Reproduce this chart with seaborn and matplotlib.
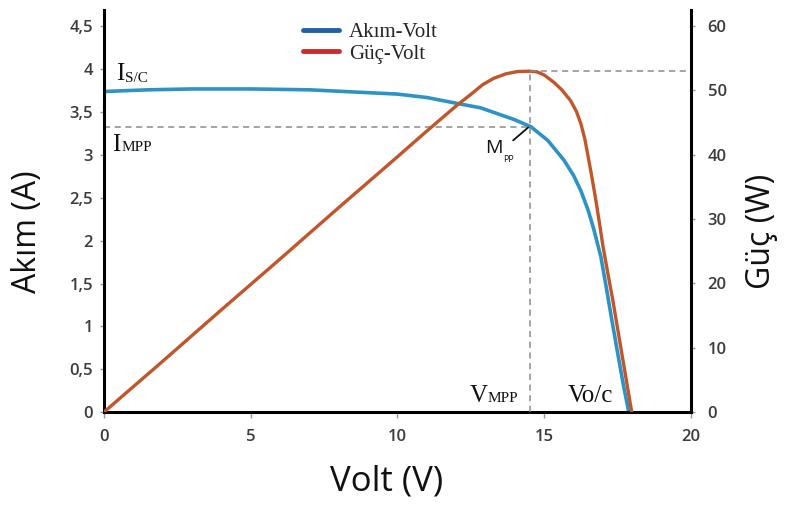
import matplotlib
matplotlib.use("Agg")
import matplotlib.pyplot as plt
import seaborn as sns
import pandas as pd
from matplotlib.lines import Line2D
from matplotlib.transforms import offset_copy

# ---- data ----
volt_i = [0, 1.5, 3, 5, 7, 8.8, 10, 11, 12.05, 12.83, 13.5, 14.0, 14.54,
          15.12, 15.67, 16.0, 16.25, 16.5, 16.69, 16.93, 17.1, 17.3, 17.5,
          17.7, 17.88]
current = [3.74, 3.76, 3.77, 3.77, 3.76, 3.73, 3.71, 3.67, 3.60, 3.55, 3.47,
           3.41, 3.33, 3.17, 2.94, 2.76, 2.58, 2.35, 2.13, 1.81, 1.48, 1.08,
           0.69, 0.31, 0.0]

volt_p = [0, 2, 4, 6, 8, 10, 11, 12.05, 12.5, 12.9, 13.28, 13.7, 14.1, 14.5,
          14.75, 15.0, 15.32, 15.6, 15.9, 16.1, 16.25, 16.38, 16.48, 16.62,
          16.76, 16.88, 17.0, 17.17, 17.34, 17.55, 17.75, 17.98]
power = [0, 7.9, 15.9, 23.8, 31.8, 39.7, 43.7, 47.8, 49.4, 50.9, 51.9, 52.6,
         52.95, 53.0, 52.9, 52.4, 51.3, 50.1, 48.4, 46.7, 44.8, 42.5, 40.1,
         36.6, 32.9, 29.4, 25.8, 21.5, 17.3, 11.6, 6.2, 0]

mpp_v = 14.5
mpp_i = 3.33
mpp_p = 53.0

left_ticks = [0, 0.5, 1, 1.5, 2, 2.5, 3, 3.5, 4, 4.5]
left_labels = ["0", "0,5", "1", "1,5", "2", "2,5", "3", "3,5", "4", "4,5"]
right_ticks = [0, 10, 20, 30, 40, 50, 60]
x_ticks = [0, 5, 10, 15, 20]

series_names = ["Akım-Volt", "Güç-Volt"]

# ---- styling ----
sns.set_theme(style="white")
plt.rcParams["font.family"] = ["Open Sans", "DejaVu Sans"]

curve_blue = "#2c93c4"
curve_red = "#c2562b"
legend_blue = "#2062a6"
legend_red = "#cc2b2b"
dash_col = "#8a8a8a"
tick_col = "#3c3c3c"
serif = ["Liberation Serif", "DejaVu Serif"]

fig = plt.figure(figsize=(7.9, 5.05), dpi=100)
ax = fig.add_axes([0.1316, 0.184, 0.7431, 0.796])
ax2 = ax.twinx()

df_i = pd.DataFrame({"V": volt_i, "I": current})
df_p = pd.DataFrame({"V": volt_p, "P": power})

sns.lineplot(data=df_i, x="V", y="I", ax=ax, color=curve_blue, lw=2.6,
             sort=False, estimator=None)
sns.lineplot(data=df_p, x="V", y="P", ax=ax2, color=curve_red, lw=2.4,
             sort=False, estimator=None)

# dashed guides
ax.hlines(mpp_i, 0, mpp_v, colors=dash_col, linestyles=(0, (4, 3)), lw=1.1)
ax2.vlines(mpp_v, 0, mpp_p, colors=dash_col, linestyles=(0, (4, 3)), lw=1.1)
ax2.hlines(mpp_p, mpp_v, 20, colors=dash_col, linestyles=(0, (4, 3)), lw=1.1)

ax.set_xlim(0, 20)
ax.set_ylim(0, 4.69)
ax2.set_ylim(0, 62.5)

ax.set_xticks(x_ticks)
ax.set_xticklabels([str(t) for t in x_ticks])
ax.set_yticks(left_ticks)
ax.set_yticklabels(left_labels)
ax2.set_yticks(right_ticks)
ax2.set_yticklabels([str(t) for t in right_ticks])

for a in (ax, ax2):
    a.grid(False)
    for s in a.spines.values():
        s.set_color("black")
        s.set_linewidth(2.2)
    a.spines["top"].set_visible(False)

ax.spines["right"].set_visible(False)
ax2.spines["left"].set_visible(False)
ax2.spines["bottom"].set_visible(False)

ax.tick_params(axis="y", left=True, length=3, width=1, color="#999999",
               pad=5, labelsize=12, labelcolor=tick_col)
ax.tick_params(axis="x", bottom=True, length=4, width=1, color="#999999",
               pad=8, labelsize=12, labelcolor=tick_col)
ax2.tick_params(axis="y", right=True, length=3, width=1, color="#999999",
                pad=9, labelsize=12, labelcolor=tick_col)
for lab in ax.get_xticklabels() + ax.get_yticklabels() + ax2.get_yticklabels():
    lab.set_fontweight("semibold")

ax.set_xlabel("Volt (V)", fontsize=25, color="#111111")
ax.set_ylabel("Akım (A)", fontsize=23, color="#111111")
ax2.set_ylabel("Güç (W)", fontsize=23, color="#111111", rotation=90)
ax.xaxis.set_label_coords(0.482, -0.172)
ax.xaxis.label.set_va("center")
ax.yaxis.set_label_coords(-0.13, 0.45)
ax.yaxis.label.set_va("center")
ax2.yaxis.set_label_coords(1.12, 0.45)
ax2.yaxis.label.set_va("center")

# annotations (serif, with small-cap style suffixes)
def big_small(axis, x, y, big, small, big_size=18, small_size=11, dx=7, dy=0):
    axis.text(x, y, big, fontsize=big_size, family=serif, color="#111111",
              va="baseline", ha="left")
    tr = offset_copy(axis.transData, fig=fig, x=dx, y=dy, units="points")
    axis.text(x, y, small, fontsize=small_size, family=serif, color="#111111",
              va="baseline", ha="left", transform=tr)

big_small(ax, 0.42, 3.87, "I", "S/C", dx=6.5, dy=-1)
big_small(ax, 0.28, 3.05, "I", "MPP", dx=6.5, dy=0)
big_small(ax, 12.45, 0.12, "V", "MPP", dx=13, dy=0)
ax.text(15.8, 0.12, "Vo/c", fontsize=18, family=serif, color="#111111",
        va="baseline", ha="left")

# M_PP label with leader line
ax.text(13.0, 3.02, "M", fontsize=14, color="#111111", va="baseline",
        ha="left")
tr = offset_copy(ax.transData, fig=fig, x=13, y=-6, units="points")
ax.text(13.0, 3.02, "PP", fontsize=6.5, color="#111111", va="baseline",
        ha="left", transform=tr)
ax.annotate("", xy=(14.45, 3.32), xytext=(13.94, 3.17),
            arrowprops=dict(arrowstyle="-", color="#111111", lw=1.3,
                            shrinkA=0, shrinkB=0))

# legend
handles = [Line2D([0], [0], color=legend_blue, lw=3.5),
           Line2D([0], [0], color=legend_red, lw=3.5)]
leg = ax2.legend(handles, series_names, loc="upper left",
                 bbox_to_anchor=(0.325, 0.99), frameon=False,
                 prop={"family": serif, "size": 15}, handlelength=1.7,
                 handletextpad=0.5, labelspacing=0.1, borderaxespad=0)

fig.savefig("out.png", dpi=100)
